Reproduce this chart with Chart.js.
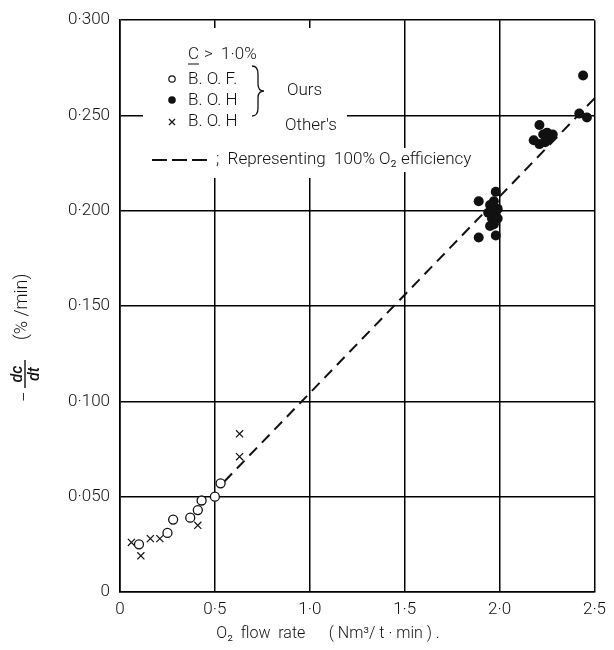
<!DOCTYPE html>
<html>
<head>
<meta charset="utf-8">
<script src="https://cdn.jsdelivr.net/npm/chart.js@4"></script>
<style>
    html, body { margin: 0; padding: 0; background: #fff; }
    #marco { width: 614px; height: 650px; }
</style>
</head>
<body>
<div id="marco"><canvas id="grafico" width="614" height="650"></canvas></div>
<script>
// Datos
const xTicks = [0, 0.5, 1.0, 1.5, 2.0, 2.5];
const yTicks = [0, 0.05, 0.10, 0.15, 0.20, 0.25, 0.30];

// B.O.F. (ours) - circulos abiertos
const bofX = [0.10, 0.25, 0.28, 0.37, 0.41, 0.43, 0.50, 0.53];
const bofY = [0.025, 0.031, 0.038, 0.039, 0.043, 0.048, 0.050, 0.057];

// B.O.H (ours) - circulos llenos
const bohX = [1.89, 1.89, 1.95, 1.96, 1.97, 1.96, 1.98, 1.97, 1.99, 1.95, 1.98, 1.99, 1.94, 1.97,
              2.21, 2.18, 2.21, 2.23, 2.25, 2.26, 2.28, 2.24, 2.42, 2.46, 2.44];
const bohY = [0.205, 0.186, 0.203, 0.200, 0.198, 0.196, 0.210, 0.193, 0.201, 0.192, 0.187, 0.196, 0.199, 0.205,
              0.245, 0.237, 0.235, 0.240, 0.241, 0.238, 0.240, 0.236, 0.251, 0.249, 0.271];

// B.O.H (other's) - cruces
const otrosX = [0.06, 0.11, 0.16, 0.21, 0.41, 0.63, 0.63];
const otrosY = [0.026, 0.019, 0.028, 0.028, 0.035, 0.071, 0.083];

// 100% O2 efficiency
const eficX = [0.55, 2.5];
const eficY = [0.058, 0.259];

const puntos = (xs, ys) => xs.map((x, i) => ({ x, y: ys[i] }));
const FUENTE = "Roboto, 'Liberation Sans', sans-serif";
const TINTA = "#111";

const leyenda = {
    id: "leyenda",
    afterDraw(chart) {
        const ctx = chart.ctx;
        ctx.save();

        // huecos blancos donde va el texto (la reticula se corta)
        ctx.fillStyle = "#fff";
        ctx.fillRect(143, 28, 204, 150);
        ctx.fillRect(145, 148, 347, 24);

        ctx.fillStyle = TINTA;
        ctx.strokeStyle = TINTA;
        ctx.font = "300 17px " + FUENTE;
        ctx.textBaseline = "middle";
        ctx.textAlign = "left";

        // C > 1.0%
        ctx.fillText("C", 188, 55);
        ctx.lineWidth = 1;
        ctx.beginPath(); ctx.moveTo(188, 64); ctx.lineTo(199, 64); ctx.stroke();
        ctx.fillText(">  1·0%", 204, 55);

        ctx.fillText("B. O. F.", 188, 80);
        ctx.fillText("B. O. H", 188, 101);
        ctx.fillText("B. O. H", 188, 122);
        ctx.fillText("Ours", 287, 91);
        ctx.fillText("Other's", 285, 126);

        // simbolos
        ctx.lineWidth = 1.2;
        ctx.beginPath(); ctx.arc(172, 79, 3.2, 0, Math.PI * 2); ctx.stroke();
        ctx.beginPath(); ctx.arc(172, 100, 3.8, 0, Math.PI * 2); ctx.fill();
        ctx.beginPath();
        ctx.moveTo(169, 119); ctx.lineTo(175, 125);
        ctx.moveTo(175, 119); ctx.lineTo(169, 125);
        ctx.stroke();

        // llave }
        ctx.lineWidth = 1.3;
        ctx.beginPath();
        ctx.moveTo(252, 66);
        ctx.quadraticCurveTo(258, 66, 258, 74);
        ctx.lineTo(258, 84);
        ctx.quadraticCurveTo(258, 91, 264, 91);
        ctx.quadraticCurveTo(258, 91, 258, 98);
        ctx.lineTo(258, 108);
        ctx.quadraticCurveTo(258, 116, 252, 116);
        ctx.stroke();

        // linea discontinua
        ctx.lineWidth = 2;
        ctx.setLineDash([15, 5]);
        ctx.beginPath(); ctx.moveTo(152, 160); ctx.lineTo(208, 160); ctx.stroke();
        ctx.setLineDash([]);
        ctx.fillText(";  Representing  100% O₂ efficiency", 216, 160);

        // titulo eje x
        ctx.font = "300 16px " + FUENTE;
        ctx.textAlign = "center";
        ctx.fillText("O₂  flow  rate      ( Nm³/ t · min ) .", 328, 634);

        // titulo eje y (girado)
        ctx.translate(25, 402);
        ctx.rotate(-Math.PI / 2);
        ctx.textAlign = "left";
        ctx.font = "300 18px " + FUENTE;
        ctx.fillText("−", 0, 0);
        ctx.lineWidth = 1.4;
        ctx.beginPath(); ctx.moveTo(14, 0); ctx.lineTo(42, 0); ctx.stroke();
        ctx.textAlign = "center";
        ctx.font = "italic 500 16px " + FUENTE;
        ctx.textBaseline = "alphabetic";
        ctx.fillText("dc", 28, -3);
        ctx.textBaseline = "top";
        ctx.fillText("dt", 28, 2);
        ctx.textAlign = "left";
        ctx.textBaseline = "middle";
        ctx.font = "300 18px " + FUENTE;
        ctx.fillText("(% /min)", 62, -3);

        ctx.restore();
    }
};

new Chart(document.getElementById("grafico").getContext("2d"), {
    type: "scatter",
    data: {
        datasets: [
            {
                label: "B.O.F. (Ours)",
                data: puntos(bofX, bofY),
                pointStyle: "circle",
                pointRadius: 4.5,
                backgroundColor: "#fff",
                borderColor: TINTA,
                borderWidth: 1.3
            },
            {
                label: "B.O.H (Ours)",
                data: puntos(bohX, bohY),
                pointStyle: "circle",
                pointRadius: 5,
                backgroundColor: TINTA,
                borderColor: TINTA,
                borderWidth: 0
            },
            {
                label: "B.O.H (Other's)",
                data: puntos(otrosX, otrosY),
                pointStyle: "crossRot",
                pointRadius: 5,
                borderColor: TINTA,
                borderWidth: 1.2
            },
            {
                label: "Representing 100% O2 efficiency",
                data: puntos(eficX, eficY),
                showLine: true,
                borderColor: TINTA,
                borderWidth: 2,
                borderDash: [11, 7],
                pointRadius: 0
            }
        ]
    },
    options: {
        responsive: false,
        animation: false,
        devicePixelRatio: 1,
        layout: { padding: { top: 15, right: 14, left: 0, bottom: 0 } },
        plugins: {
            legend: { display: false },
            tooltip: { enabled: false }
        },
        scales: {
            x: {
                type: "linear",
                min: 0,
                max: 2.5,
                afterBuildTicks: s => { s.ticks = xTicks.map(v => ({ value: v })); },
                afterFit: s => { s.height = 58; },
                ticks: {
                    color: TINTA,
                    padding: 8,
                    font: { family: FUENTE, size: 17, weight: "300" },
                    callback: v => v === 0 ? "0" : v.toFixed(1).replace(".", "·")
                },
                grid: { color: "#000", lineWidth: 1.5, drawTicks: false },
                border: { color: "#000", width: 1.6 }
            },
            y: {
                type: "linear",
                min: 0,
                max: 0.3,
                afterBuildTicks: s => { s.ticks = yTicks.map(v => ({ value: v })); },
                afterFit: s => { s.width = 120; },
                ticks: {
                    color: TINTA,
                    padding: 10,
                    font: { family: FUENTE, size: 17, weight: "300" },
                    callback: v => v === 0 ? "0" : v.toFixed(3).replace(".", "·")
                },
                grid: { color: "#000", lineWidth: 1.5, drawTicks: false },
                border: { color: "#000", width: 1.6 }
            }
        }
    },
    plugins: [leyenda]
});
</script>
</body>
</html>
